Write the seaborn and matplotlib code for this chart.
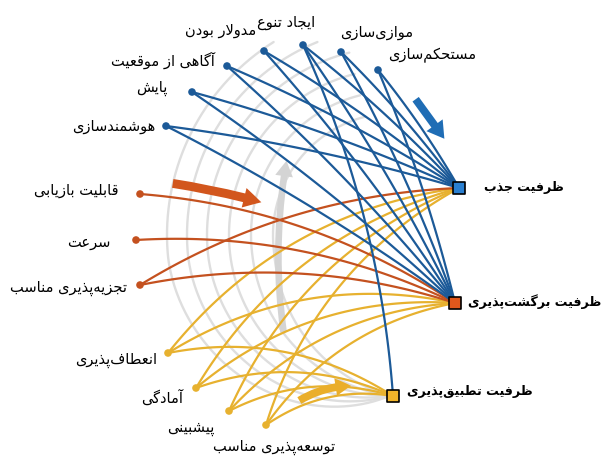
import numpy as np
import pandas as pd
import matplotlib
matplotlib.use("Agg")
import matplotlib.pyplot as plt
import seaborn as sns
from matplotlib.patches import FancyArrowPatch

# ---------------- data ----------------
BLUE_NODES = ["مستحکم‌سازی", "موازی‌سازی", "ایجاد تنوع", "مدولار بودن",
              "آگاهی از موقعیت", "پایش", "هوشمندسازی"]
ORANGE_NODES = ["قابلیت بازیابی", "سرعت", "تجزیه‌پذیری مناسب"]
YELLOW_NODES = ["انعطاف‌پذیری", "آمادگی", "پیشبینی", "توسعه‌پذیری مناسب"]
TARGETS = ["ظرفیت جذب", "ظرفیت برگشت‌پذیری", "ظرفیت تطبیق‌پذیری"]

EDGES_BLUE = [
    ("مستحکم‌سازی", "ظرفیت جذب"), ("مستحکم‌سازی", "ظرفیت برگشت‌پذیری"),
    ("موازی‌سازی", "ظرفیت جذب"), ("موازی‌سازی", "ظرفیت برگشت‌پذیری"),
    ("ایجاد تنوع", "ظرفیت جذب"), ("ایجاد تنوع", "ظرفیت برگشت‌پذیری"),
    ("ایجاد تنوع", "ظرفیت تطبیق‌پذیری"),
    ("مدولار بودن", "ظرفیت جذب"), ("مدولار بودن", "ظرفیت برگشت‌پذیری"),
    ("آگاهی از موقعیت", "ظرفیت جذب"), ("آگاهی از موقعیت", "ظرفیت برگشت‌پذیری"),
    ("پایش", "ظرفیت جذب"), ("پایش", "ظرفیت برگشت‌پذیری"),
    ("هوشمندسازی", "ظرفیت جذب"), ("هوشمندسازی", "ظرفیت برگشت‌پذیری"),
]
EDGES_ORANGE = [
    ("قابلیت بازیابی", "ظرفیت برگشت‌پذیری"),
    ("سرعت", "ظرفیت برگشت‌پذیری"),
    ("تجزیه‌پذیری مناسب", "ظرفیت برگشت‌پذیری"),
    ("تجزیه‌پذیری مناسب", "ظرفیت جذب"),
]
EDGES_YELLOW = [
    ("انعطاف‌پذیری", "ظرفیت جذب"), ("انعطاف‌پذیری", "ظرفیت برگشت‌پذیری"),
    ("انعطاف‌پذیری", "ظرفیت تطبیق‌پذیری"),
    ("آمادگی", "ظرفیت جذب"), ("آمادگی", "ظرفیت برگشت‌پذیری"),
    ("آمادگی", "ظرفیت تطبیق‌پذیری"),
    ("پیشبینی", "ظرفیت جذب"), ("پیشبینی", "ظرفیت برگشت‌پذیری"),
    ("پیشبینی", "ظرفیت تطبیق‌پذیری"),
    ("توسعه‌پذیری مناسب", "ظرفیت جذب"), ("توسعه‌پذیری مناسب", "ظرفیت برگشت‌پذیری"),
    ("توسعه‌پذیری مناسب", "ظرفیت تطبیق‌پذیری"),
]

# ---------------- layout (pixel coords, y down) ----------------
POS = {
    "مستحکم‌سازی": (378, 70), "موازی‌سازی": (341, 52), "ایجاد تنوع": (303, 45),
    "مدولار بودن": (264, 51), "آگاهی از موقعیت": (227, 66), "پایش": (192, 92),
    "هوشمندسازی": (166, 126),
    "قابلیت بازیابی": (140, 194), "سرعت": (136, 240), "تجزیه‌پذیری مناسب": (140, 285),
    "انعطاف‌پذیری": (168, 353), "آمادگی": (196, 388), "پیشبینی": (229, 411),
    "توسعه‌پذیری مناسب": (266, 425),
    "ظرفیت جذب": (459, 188), "ظرفیت برگشت‌پذیری": (455, 303),
    "ظرفیت تطبیق‌پذیری": (393, 396),
}
LABEL_POS = {
    "مستحکم‌سازی": (432, 55), "موازی‌سازی": (377, 32), "ایجاد تنوع": (286, 22),
    "مدولار بودن": (221, 30), "آگاهی از موقعیت": (163, 60), "پایش": (152, 88),
    "هوشمندسازی": (114, 126),
    "قابلیت بازیابی": (76, 190), "سرعت": (89, 243), "تجزیه‌پذیری مناسب": (69, 288),
    "انعطاف‌پذیری": (116, 360), "آمادگی": (162, 398), "پیشبینی": (191, 428),
    "توسعه‌پذیری مناسب": (274, 447),
}
TARGET_LABEL_LEFT = {
    "ظرفیت جذب": (484, 187), "ظرفیت برگشت‌پذیری": (468, 302),
    "ظرفیت تطبیق‌پذیری": (407, 392),
}
CURVE_K = {"yellow": 0.2, "orange": 0.13, "blue": 0.04}
CURVE_K_EDGE = {("ایجاد تنوع", "ظرفیت تطبیق‌پذیری"): 0.09}

C_BLUE_L, C_ORANGE_L, C_YELLOW_L = "#1c5a98", "#c4511f", "#e7b12f"
C_BLUE_N, C_ORANGE_N, C_YELLOW_N = "#2a7fd0", "#e0571c", "#f2b52a"
C_GRAY = "#dedede"

# ---------------- Persian shaping (presentation forms) ----------------
FORMS = {
    'ا': ('\uFE8D', '\uFE8E', None, None), 'آ': ('\uFE81', '\uFE82', None, None),
    'ب': ('\uFE8F', '\uFE90', '\uFE91', '\uFE92'), 'پ': ('\uFB56', '\uFB57', '\uFB58', '\uFB59'),
    'ت': ('\uFE95', '\uFE96', '\uFE97', '\uFE98'), 'ث': ('\uFE99', '\uFE9A', '\uFE9B', '\uFE9C'),
    'ج': ('\uFE9D', '\uFE9E', '\uFE9F', '\uFEA0'), 'چ': ('\uFB7A', '\uFB7B', '\uFB7C', '\uFB7D'),
    'ح': ('\uFEA1', '\uFEA2', '\uFEA3', '\uFEA4'), 'خ': ('\uFEA5', '\uFEA6', '\uFEA7', '\uFEA8'),
    'د': ('\uFEA9', '\uFEAA', None, None), 'ذ': ('\uFEAB', '\uFEAC', None, None),
    'ر': ('\uFEAD', '\uFEAE', None, None), 'ز': ('\uFEAF', '\uFEB0', None, None),
    'ژ': ('\uFB8A', '\uFB8B', None, None),
    'س': ('\uFEB1', '\uFEB2', '\uFEB3', '\uFEB4'), 'ش': ('\uFEB5', '\uFEB6', '\uFEB7', '\uFEB8'),
    'ص': ('\uFEB9', '\uFEBA', '\uFEBB', '\uFEBC'), 'ض': ('\uFEBD', '\uFEBE', '\uFEBF', '\uFEC0'),
    'ط': ('\uFEC1', '\uFEC2', '\uFEC3', '\uFEC4'), 'ظ': ('\uFEC5', '\uFEC6', '\uFEC7', '\uFEC8'),
    'ع': ('\uFEC9', '\uFECA', '\uFECB', '\uFECC'), 'غ': ('\uFECD', '\uFECE', '\uFECF', '\uFED0'),
    'ف': ('\uFED1', '\uFED2', '\uFED3', '\uFED4'), 'ق': ('\uFED5', '\uFED6', '\uFED7', '\uFED8'),
    'ک': ('\uFB8E', '\uFB8F', '\uFB90', '\uFB91'), 'گ': ('\uFB92', '\uFB93', '\uFB94', '\uFB95'),
    'ل': ('\uFEDD', '\uFEDE', '\uFEDF', '\uFEE0'), 'م': ('\uFEE1', '\uFEE2', '\uFEE3', '\uFEE4'),
    'ن': ('\uFEE5', '\uFEE6', '\uFEE7', '\uFEE8'), 'و': ('\uFEED', '\uFEEE', None, None),
    'ه': ('\uFEE9', '\uFEEA', '\uFEEB', '\uFEEC'), 'ی': ('\uFBFC', '\uFBFD', '\uFBFE', '\uFBFF'),
}


def shape(text):
    units, i = [], 0
    while i < len(text):
        c = text[i]
        if c == 'ل' and i + 1 < len(text) and text[i + 1] in ('ا', 'آ'):
            units.append('LA' + text[i + 1]); i += 2
        else:
            units.append(c); i += 1

    def dual(u):
        return u in FORMS and FORMS[u][2] is not None

    def arabic(u):
        return u in FORMS or u.startswith('LA')

    res = []
    for j, u in enumerate(units):
        if u == '\u200c':
            continue
        prev = units[j - 1] if j > 0 else None
        nxt = units[j + 1] if j + 1 < len(units) else None
        pj = prev is not None and dual(prev)
        if u.startswith('LA'):
            iso, fin = ('\uFEFB', '\uFEFC') if u[2] == 'ا' else ('\uFEF5', '\uFEF6')
            res.append(fin if pj else iso)
            continue
        if u not in FORMS:
            res.append(u)
            continue
        nj = dual(u) and nxt is not None and arabic(nxt)
        f = FORMS[u]
        res.append(f[3] if (pj and nj) else f[1] if pj else f[2] if nj else f[0])
    return ''.join(reversed(res))


# ---------------- curves ----------------
def bezier(p0, p1, k, n=60):
    p0, p1 = np.array(p0, float), np.array(p1, float)
    d = p1 - p0
    L = np.hypot(*d)
    nrm = np.array([d[1], -d[0]]) / L
    c = (p0 + p1) / 2 + nrm * k * L
    t = np.linspace(0, 1, n)[:, None]
    return (1 - t) ** 2 * p0 + 2 * (1 - t) * t * c + t ** 2 * p1


rows = []
eid = 0
for group, edges in [("yellow", EDGES_YELLOW), ("orange", EDGES_ORANGE), ("blue", EDGES_BLUE)]:
    for s, t in edges:
        k = CURVE_K_EDGE.get((s, t), CURVE_K[group])
        pts = bezier(POS[s], POS[t], k)
        for x, y in pts:
            rows.append({"x": x, "y": y, "edge": eid, "group": group})
        eid += 1
curves = pd.DataFrame(rows)

sns.set_theme(style="white")
plt.rcParams["font.family"] = ["DejaVu Sans"]

fig = plt.figure(figsize=(6.03, 4.57), dpi=100)
ax = fig.add_axes([0, 0, 1, 1])
ax.set_xlim(0, 603)
ax.set_ylim(457, 0)
ax.axis("off")

# gray background: concentric arcs that fan into the lower node at the bottom
cx, cy = 395.0, 235.0
node_b = np.array(POS["ظرفیت تطبیق‌پذیری"], float)
r_node = np.hypot(node_b[0] - cx, node_b[1] - cy)
for R in [228, 208, 188, 166, 144, 122]:
    s = min(0.97, (cy - 42) / R)
    th0 = 180 - np.degrees(np.arcsin(s))
    th = np.radians(np.linspace(th0, 268, 240))
    frac = np.clip((np.degrees(th) - 185) / (268 - 185), 0, 1)
    r = R + (r_node - R) * frac ** 1.6
    xx = cx + r * np.cos(th)
    yy = cy - r * np.sin(th)
    ax.plot(xx, yy, color=C_GRAY, lw=1.7, zorder=0, solid_capstyle="round")

# gray upward arrow
ax.add_patch(FancyArrowPatch((284, 335), (287, 158), connectionstyle="arc3,rad=-0.08",
                             arrowstyle="simple,head_width=1.6,head_length=1.4,tail_width=0.6",
                             mutation_scale=8, color="#d4d4d4", lw=0, zorder=1))

# connection curves
for grp, col in [("yellow", C_YELLOW_L), ("orange", C_ORANGE_L), ("blue", C_BLUE_L)]:
    sub = curves[curves["group"] == grp]
    sns.lineplot(data=sub, x="x", y="y", units="edge", estimator=None, sort=False,
                 color=col, linewidth=1.6, ax=ax, legend=False, zorder=3)
ax.set_xlim(0, 603)
ax.set_ylim(457, 0)

# source nodes
for nodes, col in [(BLUE_NODES, C_BLUE_L), (ORANGE_NODES, C_ORANGE_L), (YELLOW_NODES, C_YELLOW_L)]:
    nd = pd.DataFrame({"x": [POS[n][0] for n in nodes], "y": [POS[n][1] for n in nodes]})
    sns.scatterplot(data=nd, x="x", y="y", color=col, s=30, edgecolor="none", ax=ax, zorder=5)

# target nodes
tg = pd.DataFrame({"x": [POS[n][0] for n in TARGETS], "y": [POS[n][1] for n in TARGETS],
                   "name": TARGETS})
sns.scatterplot(data=tg, x="x", y="y", hue="name", palette=[C_BLUE_N, C_ORANGE_N, C_YELLOW_N],
                marker="s", s=66, edgecolor="black", linewidth=1.2, ax=ax, legend=False, zorder=6)
ax.set_xlabel("")
ax.set_ylabel("")

# arrows
ax.add_patch(FancyArrowPatch((414, 97), (446, 141),
                             arrowstyle="simple,head_width=1.8,head_length=1.5,tail_width=0.7",
                             mutation_scale=8, color="#1f6db5", lw=0, zorder=7))
ax.add_patch(FancyArrowPatch((170, 183), (264, 203), connectionstyle="arc3,rad=-0.03",
                             arrowstyle="simple,head_width=1.8,head_length=1.6,tail_width=0.8",
                             mutation_scale=8, color="#d2561d", lw=0, zorder=7))
ax.add_patch(FancyArrowPatch((297, 402), (354, 386), connectionstyle="arc3,rad=-0.15",
                             arrowstyle="simple,head_width=1.6,head_length=1.4,tail_width=0.7",
                             mutation_scale=8, color="#eaae2a", lw=0, zorder=7))

# labels
for n in BLUE_NODES + ORANGE_NODES + YELLOW_NODES:
    x, y = LABEL_POS[n]
    ax.text(x, y, shape(n), ha="center", va="center", fontsize=10.5, color="black", zorder=8)
for n in TARGETS:
    x, y = TARGET_LABEL_LEFT[n]
    ax.text(x, y, shape(n), ha="left", va="center", fontsize=9.1, fontweight="bold",
            color="black", zorder=8)

fig.savefig("out.png", dpi=100)
